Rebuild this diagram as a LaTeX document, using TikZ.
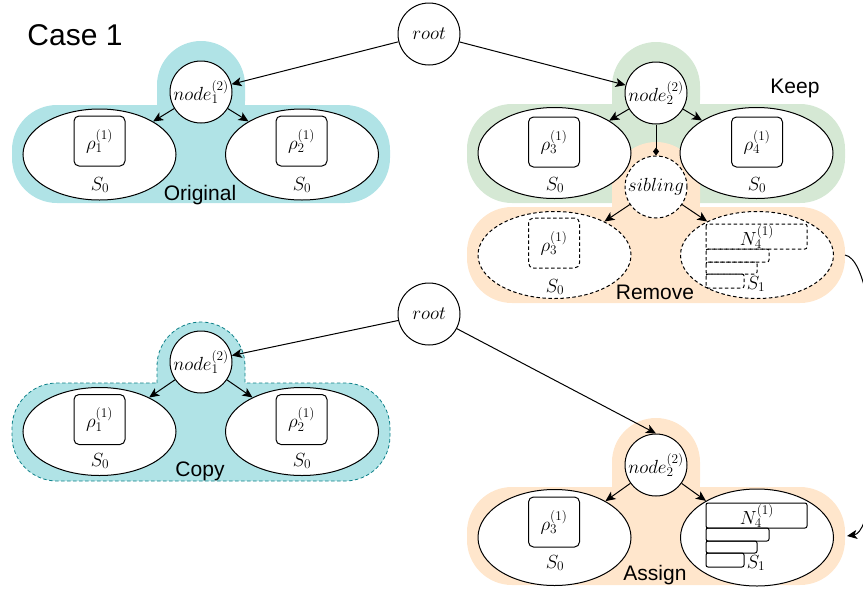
\RequirePackage{fix-cm}
\documentclass[tikz,border=0pt]{standalone}
\usepackage{fontspec}
\newfontfamily\labelfont{Liberation Sans}
\usetikzlibrary{shapes.geometric,arrows.meta}
\definecolor{blueBg}{HTML}{B0E3E6}
\definecolor{blueLine}{HTML}{0E8088}
\definecolor{greenBg}{HTML}{D5E8D4}
\definecolor{orangeBg}{HTML}{FFE6CC}

% bars of a sorted set, top edge at #1, drawn with style #2
\newcommand\stairbars[2]{%
  \draw[#2] (706,#1) rectangle (807,#1+25);
  \draw[#2] (706,#1+25) rectangle (769,#1+38);
  \draw[#2] (706,#1+38) rectangle (757,#1+50);
  \draw[#2] (706,#1+50) rectangle (744,#1+64);
}
% filled group background: bump x #1..#2 with top #3, base x #4..#5, y #6..#7
\newcommand\groupbg[8]{%
  \fill[#8,rounded corners=44pt] (#1,#3) rectangle (#2,#6+40);
  \fill[#8,rounded corners=45pt] (#4,#6) rectangle (#5,#7);
}

\begin{document}
\begin{tikzpicture}[x=1pt,y=-1pt,
  every node/.style={font=\fontsize{19}{21}\selectfont},
  dashline/.style={dash pattern=on 3.5pt off 2.5pt},
  vert/.style={circle,draw,fill=white,line width=1pt,minimum size=62pt,inner sep=0pt},
  vertdash/.style={vert,dashline},
  set/.style={ellipse,draw,fill=white,line width=1pt,minimum width=153pt,minimum height=91pt,inner sep=0pt},
  setdash/.style={set,dashline},
  cell/.style={draw,fill=white,rounded corners=5pt,line width=1pt,minimum width=51pt,minimum height=50pt,inner sep=0pt},
  celldash/.style={cell,dashline},
  bar/.style={line width=1pt,rounded corners=2pt},
  bardash/.style={bar,dashline},
  txt/.style={inner sep=0pt},
  tag/.style={font=\labelfont\fontsize{21}{24}\selectfont,inner sep=0pt,anchor=base},
  edge/.style={line width=1pt,-{Stealth[length=10pt,width=9pt,inset=2.5pt]}},
]
\useasboundingbox (0,0) rectangle (863,590);
\clip (0,0) rectangle (863,590);

% ---------- group backgrounds ----------
\groupbg{157}{245}{41}{12}{390}{105}{203}{blueBg}
\groupbg{612}{700}{42}{467}{845}{104}{203}{greenBg}
\groupbg{612}{700}{142}{467}{845}{207}{303}{orangeBg}
\groupbg{612}{700}{418}{467}{845}{487}{585}{orangeBg}
% copied group: filled outline with dashed border
\filldraw[fill=blueBg,draw=blueLine,line width=0.8pt,dashline]
  (157,383) -- (157,366) arc[start angle=180,end angle=360,radius=44]
  -- (245,383) -- (345,383) arc[start angle=270,end angle=360,radius=45]
  -- (390,436) arc[start angle=0,end angle=90,radius=45]
  -- (57,481) arc[start angle=90,end angle=180,radius=45]
  -- (12,428) arc[start angle=180,end angle=270,radius=45] -- cycle;

% ---------- labels ----------
\node[tag,font=\labelfont\fontsize{30}{34}\selectfont] (case) at (75,45) {Case 1};
\node[tag] (lorig) at (200,200) {Original};
\node[tag] (lkeep) at (795,93) {Keep};
\node[tag] (lrem) at (655,299) {Remove};
\node[tag] (lcopy) at (200,476) {Copy};
\node[tag] (lasg) at (655,580) {Assign};

% ---------- upper tree ----------
\node[vert] (root1) at (429,34) {$root$};
\node[vert] (o1) at (201,92) {$node_1^{(2)}$};
\node[set] (oL) at (99.5,154.5) {};
\node[set] (oR) at (302,154.5) {};
\node[cell] (oLc) at (99.5,141) {$\rho_1^{(1)}$};
\node[cell] (oRc) at (301.5,141) {$\rho_2^{(1)}$};
\node[txt] (oLs) at (100,185) {$S_0$};
\node[txt] (oRs) at (302,185) {$S_0$};

\node[vert] (k2) at (656,93) {$node_2^{(2)}$};
\node[set] (kL) at (554.5,153) {};
\node[set] (kR) at (756.5,153) {};
\node[cell] (kLc) at (554,142) {$\rho_3^{(1)}$};
\node[cell] (kRc) at (757,142) {$\rho_4^{(1)}$};
\node[txt] (kLs) at (555,185) {$S_0$};
\node[txt] (kRs) at (757,185) {$S_0$};

\node[vertdash] (sib) at (656,187) {$sibling$};
\node[setdash,minimum height=87pt] (rL) at (554.5,255) {};
\node[setdash,minimum height=87pt] (rR) at (757,255) {};
\node[celldash] (rLc) at (554,243) {$\rho_3^{(1)}$};
\node[txt] (rLs) at (555,287) {$S_0$};
\stairbars{224}{bardash}
\node[txt] (rRn) at (757,237) {$N_4^{(1)}$};
\node[txt] (rRs) at (756,284) {$S_1$};

\draw[edge] (root1) -- (o1);
\draw[edge] (root1) -- (k2);
\draw[edge] (o1) -- (oL);
\draw[edge] (o1) -- (oR);
\draw[edge] (k2) -- (kL);
\draw[edge] (k2) -- (kR);
\draw[line width=1pt,-{Diamond[length=8pt,width=6pt]}] (k2) -- (sib);
\draw[edge] (sib) -- (rL);
\draw[edge] (sib) -- (rR);

% ---------- lower tree ----------
\node[vert] (root2) at (429,314) {$root$};
\node[vert] (c1) at (201,362) {$node_1^{(2)}$};
\node[set,minimum height=88pt] (cL) at (99.5,431.5) {};
\node[set,minimum height=88pt] (cR) at (302,431.5) {};
\node[cell] (cLc) at (99.5,419.5) {$\rho_1^{(1)}$};
\node[cell] (cRc) at (301.5,419.5) {$\rho_2^{(1)}$};
\node[txt] (cLs) at (100,461) {$S_0$};
\node[txt] (cRs) at (302,461) {$S_0$};

\node[vert] (a2) at (656,465) {$node_2^{(2)}$};
\node[set,minimum height=96pt] (aL) at (554.5,537.5) {};
\node[set,minimum height=97pt] (aR) at (757,537.5) {};
\node[cell] (aLc) at (554,522) {$\rho_3^{(1)}$};
\node[txt] (aLs) at (555,563) {$S_0$};
\stairbars{503}{bar}
\node[txt] (aRn) at (757,516) {$N_4^{(1)}$};
\node[txt] (aRs) at (756,563) {$S_1$};

\draw[edge] (root2) -- (c1);
\draw[edge] (root2) -- (a2.north);
\draw[edge] (c1) -- (cL);
\draw[edge] (c1) -- (cR);
\draw[edge] (a2) -- (aL);
\draw[edge] (a2) -- (aR);

% ---------- transfer from the removed group to the assigned group ----------
\coordinate (remSide) at (845,255);
\coordinate (asgSide) at (847,536);
\draw[edge] (remSide) .. controls (885,262) and (885,530) .. (asgSide);
\end{tikzpicture}
\end{document}
